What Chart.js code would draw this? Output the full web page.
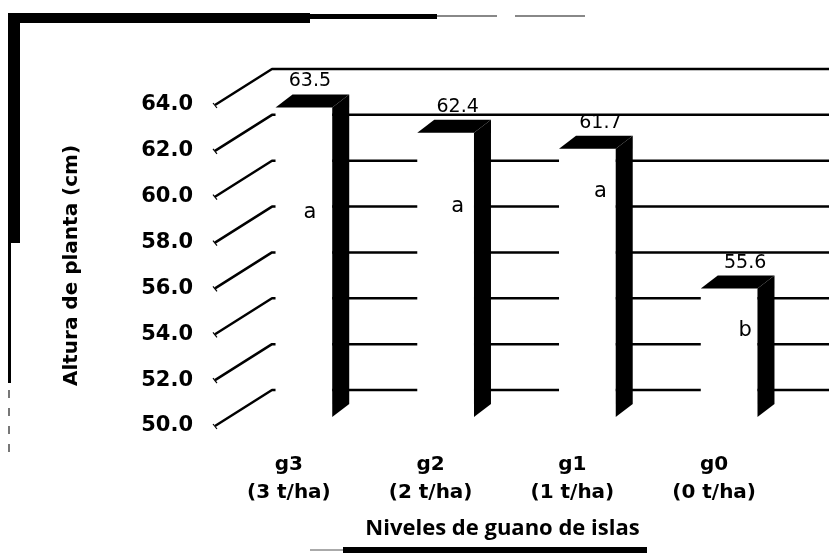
<!DOCTYPE html>
<html>
<head>
<meta charset="utf-8">
<script src="https://cdn.jsdelivr.net/npm/chart.js@4.4.1/dist/chart.umd.min.js"></script>
<style>
  html, body { margin: 0; padding: 0; background: #fff; }
  #wrap { width: 829px; height: 553px; }
</style>
</head>
<body>
<div id="wrap"><canvas id="alturaChart"></canvas></div>
<script>
// Datos del gráfico
const categorias = [['g3', '(3 t/ha)'], ['g2', '(2 t/ha)'], ['g1', '(1 t/ha)'], ['g0', '(0 t/ha)']];
const alturas = [63.5, 62.4, 61.7, 55.6];
const letras = ['a', 'a', 'a', 'b'];
const yMin = 50.0;
const yMax = 64.0;
const yPaso = 2.0;

// Efecto 3D: profundidad de la pared y de las barras (en px)
const PARED = { dx: 57, dy: -36 };
const FRENTE = { dx: 14, dy: -9 };
const LADO = { dx: 17, dy: -13 };
// desplazamiento horizontal de los textos y posición relativa de las letras en cada barra
const despTexto = [6, 12, 13, 16];
const posLetra = [0.34, 0.26, 0.16, 0.33];

// Marco escaneado alrededor del gráfico
function dibujarMarco(ctx) {
    ctx.save();
    ctx.fillStyle = '#000';
    ctx.fillRect(8, 13, 302, 10);
    ctx.fillRect(310, 14, 127, 5);
    ctx.fillStyle = '#888';
    ctx.fillRect(437, 15, 60, 2);
    ctx.fillRect(515, 15, 70, 2);
    ctx.fillStyle = '#000';
    ctx.fillRect(8, 13, 12, 230);
    ctx.fillRect(8, 243, 3, 140);
    ctx.fillStyle = '#777';
    for (let y = 390; y < 455; y += 18) ctx.fillRect(8, y, 2, 8);
    ctx.fillStyle = '#000';
    ctx.fillRect(343, 547, 304, 6);
    ctx.fillStyle = '#aaa';
    ctx.fillRect(310, 549, 33, 2);
    ctx.restore();
}

const efecto3d = {
    id: 'efecto3d',
    beforeDraw(chart) {
        const ctx = chart.ctx;
        ctx.save();
        ctx.fillStyle = '#fff';
        ctx.fillRect(0, 0, chart.width, chart.height);
        ctx.restore();
        dibujarMarco(ctx);
    },
    beforeDatasetsDraw(chart) {
        // líneas de división: diagonal en la pared lateral y horizontal en la pared del fondo
        const ctx = chart.ctx;
        const y = chart.scales.y;
        const x0 = chart.chartArea.left - 4;
        ctx.save();
        ctx.strokeStyle = '#000';
        ctx.lineJoin = 'round';
        y.ticks.forEach(t => {
            const py = y.getPixelForValue(t.value);
            ctx.lineWidth = 2.5;
            ctx.beginPath();
            ctx.moveTo(x0, py);
            ctx.lineTo(x0 + PARED.dx, py + PARED.dy);
            ctx.lineTo(chart.width, py + PARED.dy);
            ctx.stroke();
            ctx.lineWidth = 1.2;
            ctx.beginPath();
            ctx.moveTo(x0 - 2, py - 2);
            ctx.lineTo(x0 + 2, py + 3);
            ctx.stroke();
        });
        ctx.restore();
    },
    afterDatasetsDraw(chart) {
        const ctx = chart.ctx;
        const meta = chart.getDatasetMeta(0);
        const fondo = chart.scales.y.getPixelForValue(yMin);
        ctx.save();
        meta.data.forEach((el, i) => {
            const p = el.getProps(['x', 'y', 'base', 'width'], true);
            const x0 = p.x - p.width / 2 + FRENTE.dx;
            const x1 = p.x + p.width / 2 + FRENTE.dx;
            const top = p.y + FRENTE.dy;
            const bot = Math.min(p.base, fondo) + FRENTE.dy;
            // cara frontal (blanca)
            ctx.fillStyle = '#fff';
            ctx.fillRect(x0, top, x1 - x0, bot - top);
            ctx.fillStyle = '#000';
            // cara superior
            ctx.beginPath();
            ctx.moveTo(x0, top);
            ctx.lineTo(x0 + LADO.dx, top + LADO.dy);
            ctx.lineTo(x1 + LADO.dx, top + LADO.dy);
            ctx.lineTo(x1, top);
            ctx.closePath();
            ctx.fill();
            // cara lateral
            ctx.beginPath();
            ctx.moveTo(x1, top);
            ctx.lineTo(x1 + LADO.dx, top + LADO.dy);
            ctx.lineTo(x1 + LADO.dx, bot + LADO.dy);
            ctx.lineTo(x1, bot);
            ctx.closePath();
            ctx.fill();
            // valor y letra de significancia
            const cx = (x0 + x1) / 2 + despTexto[i];
            ctx.textAlign = 'center';
            ctx.textBaseline = 'middle';
            ctx.font = '19px "DejaVu Sans"';
            ctx.fillText(alturas[i].toFixed(1), cx, top + LADO.dy - 13);
            ctx.font = '21px "DejaVu Sans"';
            ctx.fillText(letras[i], cx, top + posLetra[i] * (bot - top));
        });
        ctx.restore();
    }
};

const ctx = document.getElementById('alturaChart').getContext('2d');
const myChart = new Chart(ctx, {
    type: 'bar',
    data: {
        labels: categorias,
        datasets: [{
            data: alturas,
            backgroundColor: 'rgba(0,0,0,0)',
            borderWidth: 0,
            barPercentage: 0.40,
            categoryPercentage: 1.0
        }]
    },
    options: {
        responsive: true,
        maintainAspectRatio: false,
        animation: false,
        layout: { padding: { top: 105, right: 43, left: 0, bottom: 0 } },
        plugins: {
            legend: { display: false },
            tooltip: { enabled: false }
        },
        scales: {
            y: {
                min: yMin,
                max: yMax,
                grid: { display: false, drawTicks: false },
                border: { display: false },
                ticks: {
                    stepSize: yPaso,
                    padding: 26,
                    color: '#000',
                    font: { family: 'DejaVu Sans', weight: 'bold', size: 21 },
                    callback: v => v.toFixed(1)
                },
                title: {
                    display: true,
                    text: 'Altura de planta (cm)',
                    color: '#000',
                    font: { family: 'DejaVu Sans', weight: 'bold', size: 20 },
                    padding: { top: 60, bottom: 0 }
                },
                afterFit: s => { s.width = 219; }
            },
            x: {
                grid: { display: false, drawTicks: false },
                border: { display: false },
                ticks: {
                    padding: 25,
                    labelOffset: -1,
                    maxRotation: 0,
                    color: '#000',
                    font: { family: 'DejaVu Sans', weight: 'bold', size: 20, lineHeight: 1.4 }
                },
                title: {
                    display: true,
                    text: 'Niveles de guano de islas',
                    color: '#000',
                    font: { family: 'Open Sans', weight: 'bold', size: 22 },
                    padding: { top: 0, bottom: 11 }
                },
                afterFit: s => { s.height = 127; }
            }
        }
    },
    plugins: [efecto3d]
});
</script>
</body>
</html>
